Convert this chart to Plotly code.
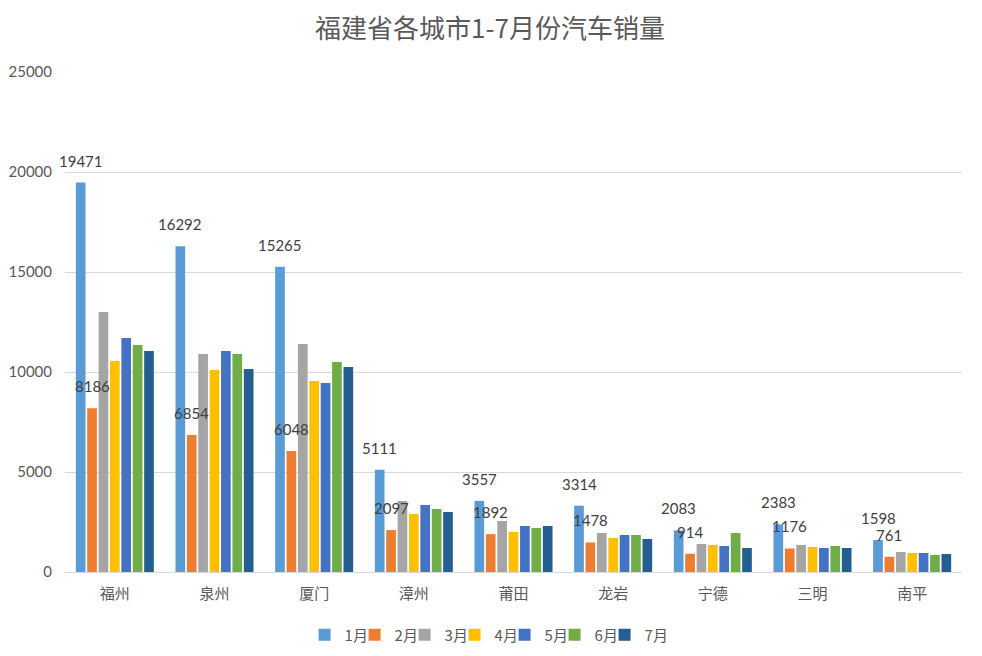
import plotly.graph_objs as go

# data
cities = ['福州', '泉州', '厦门', '漳州', '莆田', '龙岩', '宁德', '三明', '南平']
months = ['1月', '2月', '3月', '4月', '5月', '6月', '7月']

jan = [19471, 16292, 15265, 5111, 3557, 3314, 2083, 2383, 1598]
feb = [8186, 6854, 6048, 2097, 1892, 1478, 914, 1176, 761]
mar = [13000, 10900, 11400, 3550, 2550, 1950, 1400, 1350, 1000]
apr = [10550, 10100, 9550, 2900, 2000, 1700, 1350, 1250, 950]
may = [11700, 11050, 9450, 3350, 2300, 1850, 1300, 1200, 950]
jun = [11350, 10900, 10500, 3150, 2200, 1850, 1950, 1300, 850]
jul = [11050, 10150, 10250, 3000, 2300, 1650, 1200, 1200, 900]

series = [jan, feb, mar, apr, may, jun, jul]
colors = ['#5B9BD5', '#ED7D31', '#A5A5A5', '#FFC000', '#4472C4', '#70AD47', '#255E91']

#Build the traces (narrow legend entries, the last one wide enough for its text)
data = []
for idx, (name, vals, col) in enumerate(zip(months, series, colors)):
    data.append(go.Bar(
        x=cities,
        y=vals,
        name=name,
        marker=dict(color=col, line=dict(width=0)),
        legendwidth=28 if idx == len(months) - 1 else 5,
    ))

#Data labels only for the first two months, sitting a bit above the bars
slot = 0.8 / 7
annotations = []
for i, vals in enumerate([jan, feb]):
    for k, v in enumerate(vals):
        annotations.append(dict(
            x=k + (i - 3) * slot,
            y=v,
            xref='x',
            yref='y',
            text=str(v),
            showarrow=False,
            yanchor='bottom',
            yshift=11,
            font=dict(size=15, color='#404040', family='Lato, Noto Sans CJK SC'),
        ))

#Figure sized to fit inside the page body (8px default margin)
layout_style = go.Layout(
    title=dict(
        text='福建省各城市1-7月份汽车销量',
        x=0.499,
        xanchor='center',
        y=0.9675,
        yanchor='middle',
        font=dict(size=26, color='#595959', family='Noto Sans CJK SC'),
    ),
    xaxis=dict(
        range=[-0.5, len(cities) - 0.5],
        showline=True,
        linecolor='#d9d9d9',
        linewidth=1,
        showgrid=False,
        tickfont=dict(size=15, color='#595959', family='Noto Sans CJK SC'),
        ticks='',
        ticklabelstandoff=8,
        automargin=False,
    ),
    yaxis=dict(
        range=[0, 25000],
        dtick=5000,
        tickformat='d',
        showgrid=True,
        gridcolor='#d9d9d9',
        gridwidth=1,
        zeroline=False,
        showline=False,
        tickfont=dict(size=15, color='#595959', family='Lato, Noto Sans CJK SC'),
        ticks='outside',
        ticklen=9,
        tickcolor='rgba(0,0,0,0)',
        automargin=False,
    ),
    barmode='group',
    bargap=0.2,
    bargroupgap=0.15,
    legend=dict(
        orientation='h',
        x=0.475,
        xanchor='center',
        y=-0.126,
        yanchor='middle',
        font=dict(size=15, color='#595959', family='Noto Sans CJK SC'),
        itemwidth=30,
    ),
    annotations=annotations,
    width=966,
    height=640,
    margin=dict(l=57, r=12, t=64, b=76, autoexpand=False),
    plot_bgcolor='white',
    paper_bgcolor='white',
)

fig = go.Figure(data=data, layout=layout_style)
fig.write_html("out.html")
